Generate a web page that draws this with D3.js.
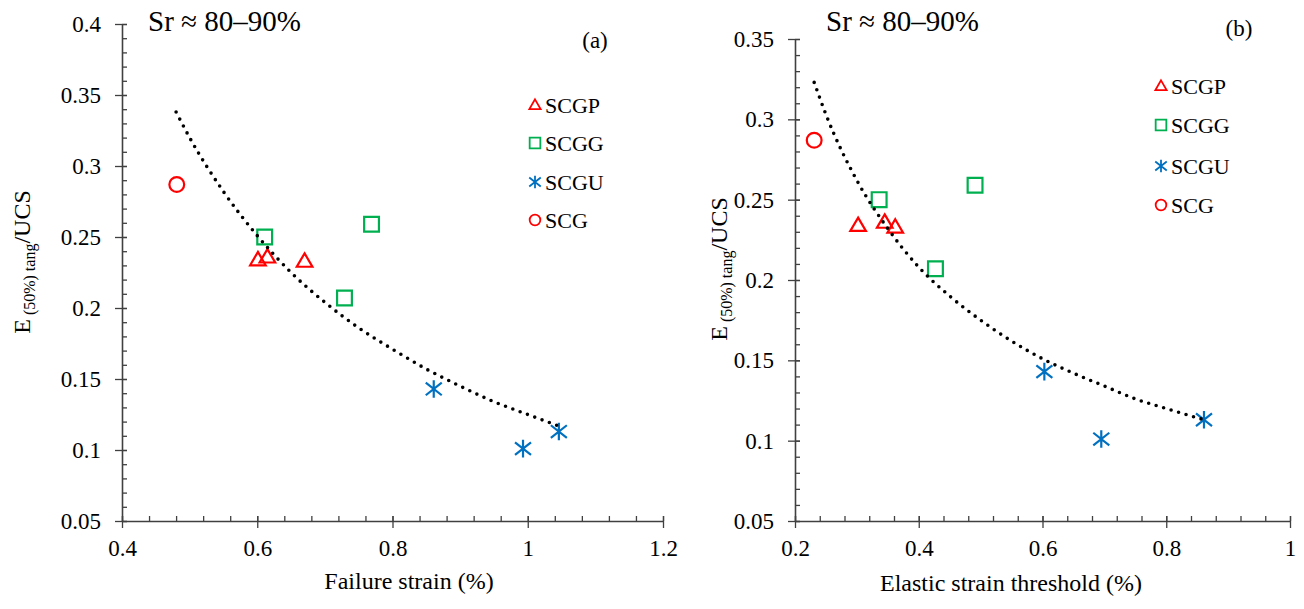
<!DOCTYPE html>
<html>
<head>
<meta charset="utf-8">
<script src="https://cdn.jsdelivr.net/npm/d3@7"></script>
<style>
  html, body { margin: 0; padding: 0; background: #fff; }
  svg { display: block; font-family: "Liberation Serif", "Times New Roman", serif; }
</style>
</head>
<body>
<svg id="chart" width="1304" height="609"></svg>
<script>
// ---------- data ----------
const seriesNames = ["SCGP", "SCGG", "SCGU", "SCG"];
const ySCGP = [0.234, 0.236, 0.233];
const ySCGG = [0.250, 0.259, 0.207];
const ySCGU = [0.143, 0.101, 0.113];
const ySCG  = [0.287];

const failSCGP = [0.601, 0.615, 0.670];
const failSCGG = [0.611, 0.769, 0.729];
const failSCGU = [0.861, 0.993, 1.046];
const failSCG  = [0.481];

const elasSCGP = [0.302, 0.345, 0.362];
const elasSCGG = [0.336, 0.491, 0.427];
const elasSCGU = [0.603, 0.695, 0.861];
const elasSCG  = [0.231];

// trend lines
const trendFailX = [0.48, 0.5, 0.55, 0.6, 0.65, 0.7, 0.75, 0.8, 0.85, 0.9, 0.95, 1.0, 1.045];
const trendFailY = [0.338, 0.320, 0.282, 0.251, 0.225, 0.204, 0.186, 0.171, 0.157, 0.145, 0.134, 0.125, 0.117];
const trendElasX = [0.231, 0.25, 0.3, 0.35, 0.4, 0.45, 0.5, 0.55, 0.6, 0.65, 0.7, 0.75, 0.8, 0.861];
const trendElasY = [0.323, 0.303, 0.262, 0.232, 0.208, 0.190, 0.175, 0.162, 0.151, 0.142, 0.134, 0.126, 0.120, 0.113];

const xTicksA = [0.4, 0.6, 0.8, 1.0, 1.2];
const yTicksA = [0.05, 0.1, 0.15, 0.2, 0.25, 0.3, 0.35, 0.4];
const xTicksB = [0.2, 0.4, 0.6, 0.8, 1.0];
const yTicksB = [0.05, 0.1, 0.15, 0.2, 0.25, 0.3, 0.35];

const xTitleA = "Failure strain (%)";
const xTitleB = "Elastic strain threshold (%)";
const srText = "Sr \u2248 80\u201390%";

// ---------- styles ----------
const colors = { SCGP: "#FF0000", SCGG: "#00B050", SCGU: "#0070C0", SCG: "#FF0000" };
const shapes = { SCGP: "tri", SCGG: "sq", SCGU: "star", SCG: "circ" };
const axisColor = "#404040";
const serif = "'Liberation Serif', 'Times New Roman', serif";

const svg = d3.select("#chart");

function markerPath(shape, s) {
  const p = d3.path();
  if (shape === "tri") {
    p.moveTo(0, -7.8 * s); p.lineTo(7.8 * s, 5.6 * s); p.lineTo(-7.8 * s, 5.6 * s); p.closePath();
  } else if (shape === "sq") {
    p.rect(-7.4 * s, -7.4 * s, 14.8 * s, 14.8 * s);
  } else if (shape === "circ") {
    p.arc(0, 0, 7.4 * s, 0, 2 * Math.PI);
  } else if (shape === "star") {
    p.moveTo(0, -8.8 * s); p.lineTo(0, 8.8 * s);
    p.moveTo(-8 * s, -6.3 * s); p.lineTo(8 * s, 6.3 * s);
    p.moveTo(-8 * s, 6.3 * s); p.lineTo(8 * s, -6.3 * s);
  }
  return p.toString();
}

function minorValues(lo, hi, step) {
  const out = [];
  const n = Math.round((hi - lo) / step);
  for (let i = 0; i <= n; i++) out.push(+(lo + i * step).toFixed(6));
  return out;
}

function panel(cfg) {
  const g = svg.append("g");
  const x = d3.scaleLinear().domain(cfg.xDomain).range(cfg.xRange);
  const y = d3.scaleLinear().domain(cfg.yDomain).range(cfg.yRange);

  // minor ticks (inside)
  const xMinor = minorValues(cfg.xDomain[0], cfg.xDomain[1], 0.04);
  const yMinor = minorValues(cfg.yDomain[0], cfg.yDomain[1], 0.01);
  g.append("g").attr("transform", `translate(0,${cfg.yRange[0]})`)
    .call(d3.axisBottom(x).tickValues(xMinor).tickSize(-5).tickSizeOuter(0).tickFormat(""))
    .call(a => a.select(".domain").remove())
    .call(a => a.selectAll("line").attr("stroke", axisColor).attr("stroke-width", 1.3));
  g.append("g").attr("transform", `translate(${cfg.xRange[0]},0)`)
    .call(d3.axisLeft(y).tickValues(yMinor).tickSize(-5).tickSizeOuter(0).tickFormat(""))
    .call(a => a.select(".domain").remove())
    .call(a => a.selectAll("line").attr("stroke", axisColor).attr("stroke-width", 1.3));

  // major axes
  const fmt = d => d3.format("~g")(d);
  g.append("g").attr("transform", `translate(0,${cfg.yRange[0]})`)
    .attr("font-family", serif)
    .call(d3.axisBottom(x).tickValues(cfg.xTicks).tickSize(7).tickSizeOuter(0).tickPadding(12).tickFormat(fmt))
    .attr("font-family", serif)
    .call(a => a.select(".domain").attr("stroke", axisColor).attr("stroke-width", 1.6))
    .call(a => a.selectAll(".tick line").attr("y1", -5).attr("stroke", axisColor).attr("stroke-width", 1.3))
    .call(a => a.selectAll("text").attr("font-size", 23).attr("fill", "#000").attr("font-family", serif));
  g.append("g").attr("transform", `translate(${cfg.xRange[0]},0)`)
    .call(d3.axisLeft(y).tickValues(cfg.yTicks).tickSize(7).tickSizeOuter(0).tickPadding(14).tickFormat(fmt))
    .attr("font-family", serif)
    .call(a => a.select(".domain").attr("stroke", axisColor).attr("stroke-width", 1.6))
    .call(a => a.selectAll(".tick line").attr("x1", 5).attr("stroke", axisColor).attr("stroke-width", 1.3))
    .call(a => a.selectAll("text").attr("font-size", 23).attr("fill", "#000").attr("font-family", serif));

  // markers
  cfg.series.forEach(s => {
    g.append("g").selectAll("path").data(s.xs.map((v, i) => [v, s.ys[i]])).join("path")
      .attr("d", markerPath(shapes[s.name], 1))
      .attr("transform", d => `translate(${x(d[0])},${y(d[1])})`)
      .attr("fill", "none").attr("stroke", colors[s.name]).attr("stroke-width", 2.2);
  });

  // trend line (dotted)
  const line = d3.line().x(d => x(d[0])).y(d => y(d[1])).curve(d3.curveMonotoneX);
  g.append("path").datum(cfg.trendX.map((v, i) => [v, cfg.trendY[i]]))
    .attr("d", line).attr("fill", "none").attr("stroke", "#000")
    .attr("stroke-width", 3.6).attr("stroke-linecap", "round").attr("stroke-dasharray", "0,7.8");

  // legend
  seriesNames.forEach((n, i) => {
    const ly = cfg.legendY[i];
    g.append("path").attr("d", markerPath(shapes[n], 0.72))
      .attr("transform", `translate(${cfg.legendX},${ly})`)
      .attr("fill", "none").attr("stroke", colors[n]).attr("stroke-width", 1.8);
    g.append("text").attr("x", cfg.legendX + 10).attr("y", ly + 7.5)
      .attr("font-size", 22).attr("fill", "#000").text(n);
  });

  // titles
  g.append("text").attr("x", cfg.xTitlePos[0]).attr("y", cfg.xTitlePos[1])
    .attr("text-anchor", "middle").attr("font-size", 24).attr("fill", "#000").text(cfg.xTitle);

  const yt = g.append("text")
    .attr("transform", `translate(${cfg.yTitlePos[0]},${cfg.yTitlePos[1]}) rotate(-90)`)
    .attr("text-anchor", "middle").attr("font-size", 24).attr("fill", "#000");
  yt.append("tspan").text("E");
  yt.append("tspan").attr("font-size", 16).attr("dy", 5).text(" (50%) tang");
  yt.append("tspan").attr("dy", -5).text("/UCS");

  g.append("text").attr("x", cfg.srPos[0]).attr("y", cfg.srPos[1])
    .attr("font-size", 29).attr("fill", "#000").text(srText);
  g.append("text").attr("x", cfg.tagPos[0]).attr("y", cfg.tagPos[1])
    .attr("text-anchor", "middle").attr("font-size", 23).attr("fill", "#000").text(cfg.tag);
}

panel({
  xDomain: [0.4, 1.2], xRange: [122, 663],
  yDomain: [0.05, 0.4], yRange: [521, 24],
  xTicks: xTicksA, yTicks: yTicksA,
  series: [
    { name: "SCGP", xs: failSCGP, ys: ySCGP },
    { name: "SCGG", xs: failSCGG, ys: ySCGG },
    { name: "SCGU", xs: failSCGU, ys: ySCGU },
    { name: "SCG",  xs: failSCG,  ys: ySCG }
  ],
  trendX: trendFailX, trendY: trendFailY,
  legendX: 535, legendY: [105, 143, 182, 220],
  xTitle: xTitleA, xTitlePos: [409, 589],
  yTitlePos: [30, 262],
  srPos: [148, 31], tag: "(a)", tagPos: [595, 48]
});

panel({
  xDomain: [0.2, 1.0], xRange: [795, 1290],
  yDomain: [0.05, 0.35], yRange: [521, 39],
  xTicks: xTicksB, yTicks: yTicksB,
  series: [
    { name: "SCGP", xs: elasSCGP, ys: ySCGP },
    { name: "SCGG", xs: elasSCGG, ys: ySCGG },
    { name: "SCGU", xs: elasSCGU, ys: ySCGU },
    { name: "SCG",  xs: elasSCG,  ys: ySCG }
  ],
  trendX: trendElasX, trendY: trendElasY,
  legendX: 1161, legendY: [86, 125, 166, 205],
  xTitle: xTitleB, xTitlePos: [1011, 591],
  yTitlePos: [727, 269],
  srPos: [826, 31], tag: "(b)", tagPos: [1239, 36]
});
</script>
</body>
</html>
